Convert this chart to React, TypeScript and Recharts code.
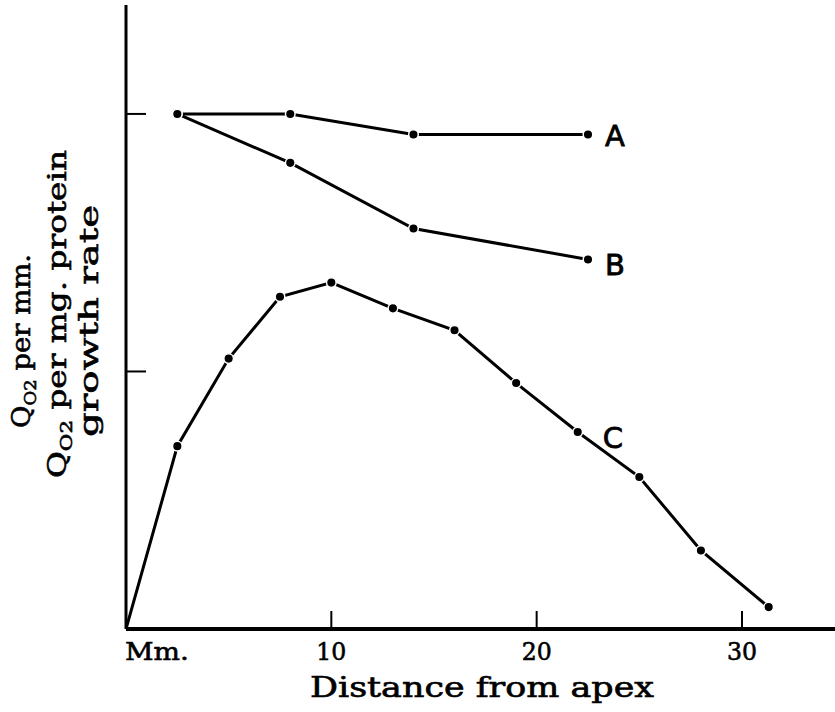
import { LineChart, Line, XAxis, YAxis, LabelList } from "recharts";

// distance from apex (mm) and relative values
const distA = [2.5, 8, 14, 22.5];
const valuesA = [2.0, 2.0, 1.92, 1.92];

const distB = [2.5, 8, 14, 22.5];
const valuesB = [2.0, 1.81, 1.555, 1.435];

const distC = [0, 2.5, 5, 7.5, 10, 13, 16, 19, 22, 25, 28, 31.3];
const valuesC = [0, 0.71, 1.05, 1.29, 1.345, 1.245, 1.16, 0.955, 0.765, 0.59, 0.305, 0.085];

const xTicks = [0, 10, 20, 30];
const yTicks = [0, 1, 2];

const toRows = (xs: number[], ys: number[]) => xs.map((d, i) => ({ d, v: ys[i] }));
const dataA = toRows(distA, valuesA);
const dataB = toRows(distB, valuesB);
const dataC = toRows(distC, valuesC);

const INK = "#000";
const SERIF = "'DejaVu Serif', serif";
// normal weight thickened a little, the lettering is between regular and bold
const lettering = { fontFamily: SERIF, fill: INK, stroke: INK, strokeWidth: 0.6 };

function XTick({ x, y, payload }: any) {
  const v = payload.value;
  return (
    <g>
      {v !== 0 && <line x1={x} y1={y} x2={x} y2={y - 18} stroke={INK} strokeWidth={2} />}
      <text
        x={v === 0 ? x - 1 : x}
        y={y + 31}
        textAnchor={v === 0 ? "start" : "middle"}
        textLength={v === 0 ? 64 : 30}
        lengthAdjust="spacingAndGlyphs"
        fontSize={25}
        {...lettering}
      >
        {v === 0 ? "Mm." : v}
      </text>
    </g>
  );
}

function YTick({ x, y, payload }: any) {
  if (payload.value === 0) return <g />;
  return <line x1={x} y1={y} x2={x + 20} y2={y} stroke={INK} strokeWidth={2} />;
}

function YTitle() {
  const qLine = (bx: number, by: number, rest: string, len: number) => (
    <text
      x={bx}
      y={by}
      transform={`rotate(-90, ${bx}, ${by})`}
      textLength={len}
      lengthAdjust="spacingAndGlyphs"
      fontSize={26}
      {...lettering}
    >
      Q<tspan fontSize={17} dy={6}>O2</tspan>
      <tspan dy={-6}>{rest}</tspan>
    </text>
  );
  return (
    <g>
      {qLine(30, 428, " per mm.", 174)}
      {qLine(66, 478, " per mg. protein", 328)}
      <text
        x={98}
        y={437}
        transform="rotate(-90, 98, 437)"
        textLength={232}
        lengthAdjust="spacingAndGlyphs"
        fontSize={26}
        {...lettering}
      >
        growth rate
      </text>
    </g>
  );
}

function XTitle() {
  return (
    <text
      x={482}
      y={697}
      textAnchor="middle"
      textLength={344}
      lengthAdjust="spacingAndGlyphs"
      fontSize={27}
      {...lettering}
    >
      Distance from apex
    </text>
  );
}

const seriesLabel = (text: string, at: number, dx: number, dy: number) => (p: any) => {
  if (p.index !== at) return null;
  return (
    <text
      x={p.x + dx}
      y={p.y + dy}
      fontFamily="'DejaVu Sans', sans-serif"
      fontSize={29}
      fill={INK}
      stroke={INK}
      strokeWidth={0.8}
    >
      {text}
    </text>
  );
};

const dot = (skipFirst: boolean) => (p: any) => {
  if (skipFirst && p.index === 0) return <g key={`d${p.index}`} />;
  return (
    <circle key={`d${p.index}`} cx={p.cx} cy={p.cy} r={4.8} fill={INK} stroke="#fff" strokeWidth={1.5} />
  );
};

export default function App() {
  return (
    <div style={{ position: "absolute", left: 0, top: 0, background: "#fff" }}>
      <LineChart width={835} height={712} margin={{ top: 5, right: 0, left: 0, bottom: 0 }}>
        <XAxis
          type="number"
          dataKey="d"
          domain={[0, 34.53]}
          ticks={xTicks}
          allowDataOverflow
          height={83}
          axisLine={{ stroke: INK, strokeWidth: 4 }}
          tickLine={false}
          tickSize={0}
          tickMargin={0}
          tick={<XTick />}
          interval={0}
          label={{ content: () => <XTitle /> }}
        />
        <YAxis
          type="number"
          dataKey="v"
          domain={[0, 2.423]}
          ticks={yTicks}
          allowDataOverflow
          width={126}
          axisLine={{ stroke: INK, strokeWidth: 3 }}
          tickLine={false}
          tickSize={0}
          tickMargin={0}
          tick={<YTick />}
          interval={0}
          label={{ content: () => <YTitle /> }}
        />
        <Line
          data={dataA}
          dataKey="v"
          name="A"
          stroke={INK}
          strokeWidth={3}
          dot={dot(false)}
          isAnimationActive={false}
        >
          <LabelList dataKey="v" content={seriesLabel("A", 3, 17, 11)} />
        </Line>
        <Line
          data={dataB}
          dataKey="v"
          name="B"
          stroke={INK}
          strokeWidth={3}
          dot={dot(false)}
          isAnimationActive={false}
        >
          <LabelList dataKey="v" content={seriesLabel("B", 3, 17, 16)} />
        </Line>
        <Line
          data={dataC}
          dataKey="v"
          name="C"
          stroke={INK}
          strokeWidth={3}
          dot={dot(true)}
          isAnimationActive={false}
        >
          <LabelList dataKey="v" content={seriesLabel("C", 8, 25, 16)} />
        </Line>
      </LineChart>
    </div>
  );
}
